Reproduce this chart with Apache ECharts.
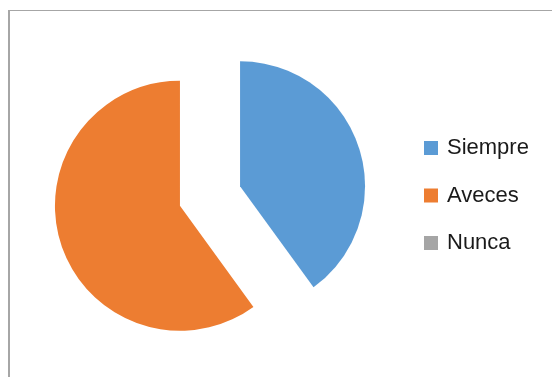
<!DOCTYPE html>
<html>
<head>
<meta charset="utf-8">
<style>
  html, body { margin: 0; padding: 0; background: #ffffff; }
  #chart { width: 552px; height: 377px; }
</style>
<script src="https://cdn.jsdelivr.net/npm/echarts@6/dist/echarts.min.js"></script>
</head>
<body>
<div id="chart"></div>
<script>
// Answer categories and their shares
const categories = ['Siempre', 'Aveces', 'Nunca'];
const values = [40, 60, 0];
const colors = ['#5b9bd5', '#ed7d31', '#a5a5a5'];

const chart = echarts.init(document.getElementById('chart'), null, { renderer: 'canvas' });

const pieData = categories.map((name, i) => ({
  name: name,
  value: values[i],
  selected: values[i] > 0,
  itemStyle: { color: colors[i] }
}));

chart.setOption({
  animation: false,
  backgroundColor: '#ffffff',
  graphic: [
    // chart area frame (top and left edges)
    { type: 'rect', shape: { x: 8, y: 10, width: 544, height: 1 }, style: { fill: '#a6a6a6' }, silent: true },
    { type: 'rect', shape: { x: 8, y: 10, width: 2, height: 367 }, style: { fill: '#a6a6a6' }, silent: true }
  ],
  legend: {
    orient: 'vertical',
    left: 424,
    top: 137,
    padding: 0,
    itemWidth: 14,
    itemHeight: 14,
    itemGap: 25.5,
    icon: 'rect',
    selectedMode: false,
    data: categories,
    textStyle: {
      fontFamily: 'Liberation Sans',
      fontSize: 22,
      lineHeight: 22,
      color: '#1a1a1a',
      padding: [0, 0, 0, 4]
    }
  },
  series: [{
    type: 'pie',
    center: [210, 196],
    radius: [0, 125],
    startAngle: 90,
    clockwise: true,
    selectedMode: 'multiple',
    selectedOffset: 31.6,
    label: { show: false },
    labelLine: { show: false },
    emphasis: { disabled: true },
    itemStyle: { borderWidth: 0 },
    data: pieData
  }]
});
</script>
</body>
</html>
